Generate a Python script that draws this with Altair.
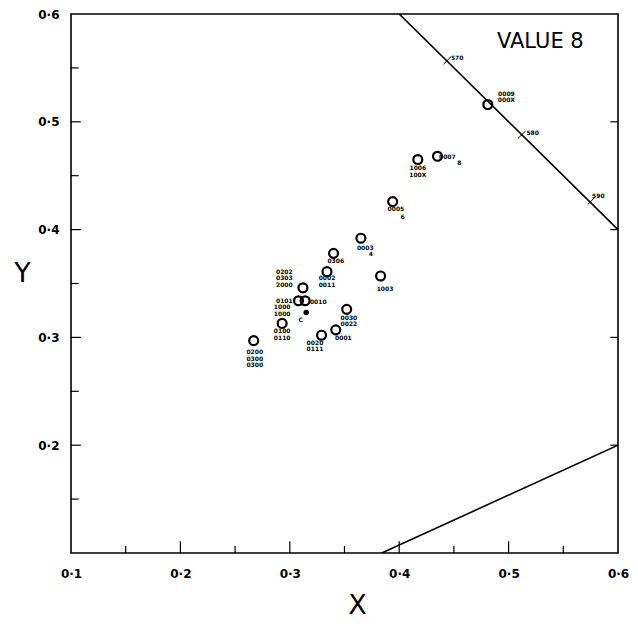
import altair as alt
import pandas as pd

# open circles (chromaticity points)
pt_x = [0.365, 0.340, 0.334, 0.383, 0.312, 0.308, 0.314, 0.352, 0.342, 0.329,
        0.293, 0.267, 0.435, 0.417, 0.394, 0.481]
pt_y = [0.392, 0.378, 0.361, 0.357, 0.346, 0.334, 0.334, 0.326, 0.307, 0.302,
        0.313, 0.297, 0.468, 0.465, 0.426, 0.516]

# filled reference dot
dot_x = [0.315]
dot_y = [0.323]

# small point labels
lab_text = ["0003", "4", "0306", "0002", "0011", "1003", "0202", "0303", "2000",
            "0101", "1000", "1000", "0010", "C", "0030", "0022", "0001", "0100",
            "0110", "0020", "0111", "0200", "0300", "0300", "0007", "8", "1006",
            "100X", "0005", "6", "0009", "000X"]
lab_x = [0.369, 0.374, 0.342, 0.334, 0.334, 0.387, 0.295, 0.295, 0.295,
         0.295, 0.293, 0.293, 0.326, 0.310, 0.354, 0.354, 0.349, 0.293,
         0.293, 0.323, 0.323, 0.268, 0.268, 0.268, 0.444, 0.455, 0.417,
         0.417, 0.397, 0.403, 0.498, 0.498]
lab_y = [0.383, 0.377, 0.371, 0.355, 0.349, 0.345, 0.361, 0.355, 0.349,
         0.334, 0.328, 0.322, 0.333, 0.316, 0.318, 0.312, 0.299, 0.306,
         0.299, 0.295, 0.289, 0.286, 0.280, 0.274, 0.467, 0.462, 0.457,
         0.451, 0.419, 0.412, 0.526, 0.520]

# wavelength marks on the x + y = 1 line
wl_text = ["570", "580", "590"]
wl_x = [0.453, 0.522, 0.582]
wl_y = [0.559, 0.490, 0.431]
wl_tick_x = [0.444, 0.512, 0.576]
wl_tick_y = [0.557, 0.488, 0.427]

# boundary lines
locus_x = [0.4, 0.6]
locus_y = [0.6, 0.4]
purple_x = [0.384, 0.6]
purple_y = [0.1, 0.2]

# axes ticks
x_major = [0.2, 0.3, 0.4, 0.5]
x_minor = [0.15, 0.25, 0.35, 0.45, 0.55]
y_major = [0.2, 0.3, 0.4, 0.5]
y_minor = [0.15, 0.25, 0.35, 0.45, 0.55]
x_labels = [0.1, 0.2, 0.3, 0.4, 0.5, 0.6]
y_labels = [0.2, 0.3, 0.4, 0.5, 0.6]

title_text = "VALUE 8"
title_pos = (0.529, 0.574)

LO, HI = 0.1, 0.6
xs = alt.Scale(domain=[LO, HI], nice=False, zero=False)
ys = alt.Scale(domain=[LO, HI], nice=False, zero=False)
lab_expr = "replace(format(datum.value, '.1f'), '.', '·')"

X = alt.X("x:Q", scale=xs, axis=alt.Axis(
    values=x_labels, labelExpr=lab_expr, ticks=False, domain=False, grid=False,
    labelFont="DejaVu Sans", labelFontWeight="bold", labelFontSize=12,
    labelPadding=15, labelColor="black", labelFlush=False,
    title="X", titleFont="DejaVu Sans", titleFontSize=27, titleFontWeight="normal",
    titleX=286, titleY=52, titleBaseline="middle", titleAlign="center",
    titleColor="black"))
Y = alt.Y("y:Q", scale=ys, axis=alt.Axis(
    values=y_labels, labelExpr=lab_expr, ticks=False, domain=False, grid=False,
    labelFont="DejaVu Sans", labelFontWeight="bold", labelFontSize=12,
    labelPadding=12, labelColor="black", labelFlush=False,
    title="Y", titleFont="DejaVu Sans", titleFontSize=27, titleFontWeight="normal",
    titleAngle=0, titleX=-49, titleY=259, titleBaseline="middle",
    titleAlign="center", titleColor="black"))

pts = pd.DataFrame({"x": pt_x, "y": pt_y})
dots = pd.DataFrame({"x": dot_x, "y": dot_y})
labs = pd.DataFrame({"x": lab_x, "y": lab_y, "t": lab_text})
wls = pd.DataFrame({"x": wl_x, "y": wl_y, "t": wl_text})
d = 0.0035
wlt = pd.DataFrame({"x": [v - d for v in wl_tick_x], "x2": [v + d for v in wl_tick_x],
                    "y": [v - d for v in wl_tick_y], "y2": [v + d for v in wl_tick_y]})
locus = pd.DataFrame({"x": locus_x, "y": locus_y, "o": [0, 1]})
purple = pd.DataFrame({"x": purple_x, "y": purple_y, "o": [0, 1]})

# tick segments (inward)
bt = pd.DataFrame({"x": x_major + x_minor,
                   "y": [LO] * 9,
                   "y2": [LO + 0.011] * 4 + [LO + 0.0065] * 5})
lt = pd.DataFrame({"y": y_major + y_minor,
                   "x": [LO] * 9,
                   "x2": [LO + 0.009] * 4 + [LO + 0.007] * 5})
rt = pd.DataFrame({"y": y_major, "x": [HI] * 4, "x2": [HI - 0.007] * 4})

base_axes = alt.Chart(pts).mark_point(shape="circle", size=80, filled=False,
                                      color="black", strokeWidth=2.2, opacity=1
                                      ).encode(x=X, y=Y)

small_font = dict(font="DejaVu Sans", fontWeight="bold", fontSize=6, color="black")

layers = [
    base_axes,
    alt.Chart(dots).mark_point(shape="circle", size=30, filled=True, color="black",
                               opacity=1).encode(x="x:Q", y="y:Q"),
    alt.Chart(labs).mark_text(**small_font).encode(x="x:Q", y="y:Q", text="t:N"),
    alt.Chart(wls).mark_text(**small_font).encode(x="x:Q", y="y:Q", text="t:N"),
    alt.Chart(wlt).mark_rule(color="black", strokeWidth=1).encode(
        x="x:Q", x2="x2:Q", y="y:Q", y2="y2:Q"),
    alt.Chart(locus).mark_line(color="black", strokeWidth=1.6, clip=True).encode(
        x="x:Q", y="y:Q", order="o:O"),
    alt.Chart(purple).mark_line(color="black", strokeWidth=1.6, clip=True).encode(
        x="x:Q", y="y:Q", order="o:O"),
    alt.Chart(bt).mark_rule(color="black", strokeWidth=1.2).encode(
        x="x:Q", y="y:Q", y2="y2:Q"),
    alt.Chart(lt).mark_rule(color="black", strokeWidth=1.2).encode(
        y="y:Q", x="x:Q", x2="x2:Q"),
    alt.Chart(rt).mark_rule(color="black", strokeWidth=1.2).encode(
        y="y:Q", x="x:Q", x2="x2:Q"),
    alt.Chart(pd.DataFrame({"x": [title_pos[0]], "y": [title_pos[1]], "t": [title_text]})
              ).mark_text(font="DejaVu Sans", fontSize=21, color="black").encode(
        x="x:Q", y="y:Q", text="t:N"),
]

chart = alt.layer(*layers).properties(
    width=547, height=539,
    padding={"left": 63, "top": 6, "right": 12, "bottom": 70},
    autosize=alt.AutoSizeParams(type="none"),
    background="white",
).configure_view(stroke="black", strokeWidth=1.6)

chart.save("out.html", embed_options={"renderer": "svg", "actions": False})
